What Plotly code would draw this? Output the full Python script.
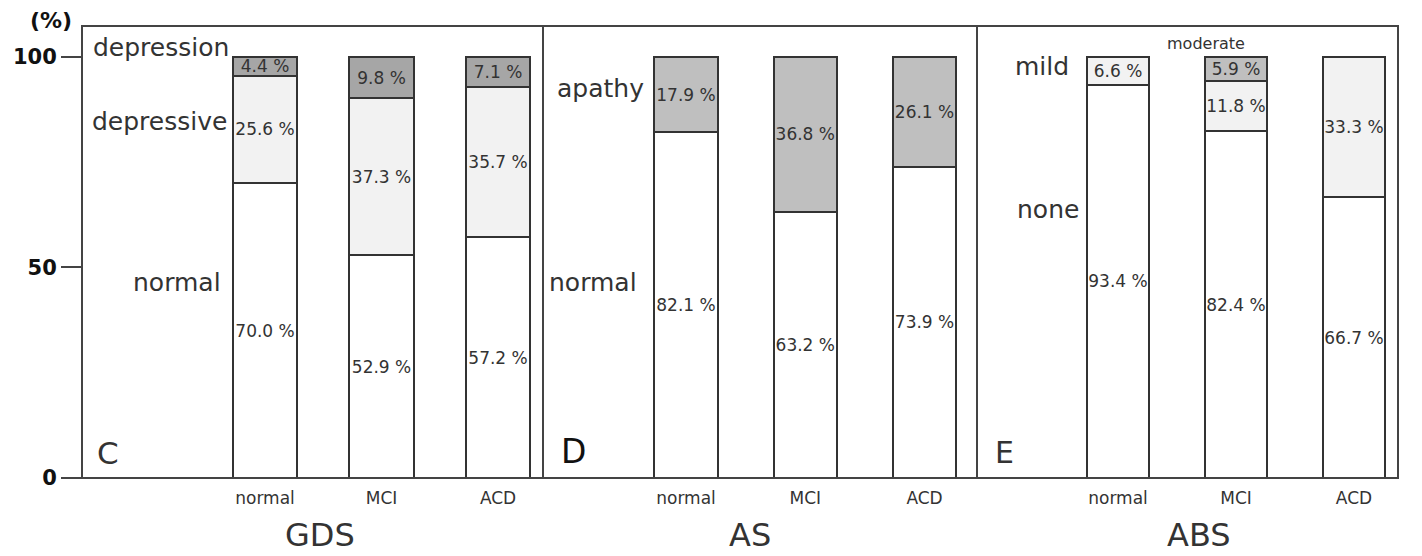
import plotly.graph_objects as go

groups = ["normal", "MCI", "ACD"]

# GDS (panel C)
gds_normal = [70.0, 52.9, 57.2]
gds_depressive = [25.6, 37.3, 35.7]
gds_depression = [4.4, 9.8, 7.1]

# AS (panel D)
as_normal = [82.1, 63.2, 73.9]
as_apathy = [17.9, 36.8, 26.1]

# ABS (panel E)
abs_none = [93.4, 82.4, 66.7]
abs_mild = [6.6, 11.8, 33.3]
abs_moderate = [0.0, 5.9, 0.0]

y_ticks = [0, 50, 100]

FONT = "DejaVu Sans"
EDGE = "#333333"
TXT = "#333333"

# plot-area geometry (pixels) used only for layout placement
W, H = 1422, 556
L, R, T, B = 82, 1398, 26, 478
PW, PH = R - L, B - T


def px(x):
    return (x - L) / PW


def py(y):
    return (B - y) / PH


fig = go.Figure()


def add_bar(xaxis, vals, color, width):
    texts = [("%.1f %%" % v) if v > 0 else "" for v in vals]
    fig.add_trace(go.Bar(
        x=groups, y=vals, xaxis=xaxis, yaxis="y",
        width=width,
        marker=dict(color=color, line=dict(color=EDGE, width=2)),
        text=texts, textposition="inside", insidetextanchor="middle",
        constraintext="none", textangle=0,
        textfont=dict(family=FONT, size=17, color=TXT),
        showlegend=False, hoverinfo="skip",
    ))


# Panel C
add_bar("x", gds_normal, "#ffffff", 0.55)
add_bar("x", gds_depressive, "#f2f2f2", 0.55)
add_bar("x", gds_depression, "#a6a6a6", 0.55)
# Panel D
add_bar("x2", as_normal, "#ffffff", 0.53)
add_bar("x2", as_apathy, "#bfbfbf", 0.53)
# Panel E
add_bar("x3", abs_none, "#ffffff", 0.525)
add_bar("x3", abs_mild, "#f2f2f2", 0.525)
add_bar("x3", abs_moderate, "#bfbfbf", 0.525)

d1 = px(543)
d2 = px(977)

xcommon = dict(
    type="category", showgrid=False, zeroline=False, showline=False,
    ticks="outside", ticklen=5, tickcolor="rgba(0,0,0,0)",
    tickfont=dict(family=FONT, size=17, color=TXT), anchor="y", fixedrange=True,
)

fig.update_layout(
    width=W, height=H,
    margin=dict(l=L, r=W - R, t=T, b=H - B),
    paper_bgcolor="white", plot_bgcolor="white",
    barmode="stack",
    font=dict(family=FONT, color=TXT),
    xaxis=dict(domain=[0, d1], range=[-1.571, 2.386], **xcommon),
    xaxis2=dict(domain=[d1, d2], range=[-1.199, 2.440], **xcommon),
    xaxis3=dict(domain=[d2, 1], range=[-1.195, 2.373], **xcommon),
    yaxis=dict(
        range=[0, 107.36], tickvals=y_ticks, ticktext=[str(v) for v in y_ticks],
        ticks="outside", ticklen=20, tickwidth=2, tickcolor="#444444",
        tickfont=dict(family=FONT, size=21, color="#111111", weight="bold"),
        showgrid=False, zeroline=False, showline=False, fixedrange=True,
    ),
)

# frame and panel dividers
fig.add_shape(type="rect", xref="paper", yref="paper", x0=0, x1=1, y0=0, y1=1,
              line=dict(color="#444444", width=2))
for d in (d1, d2):
    fig.add_shape(type="line", xref="paper", yref="paper", x0=d, x1=d, y0=0, y1=1,
                  line=dict(color="#444444", width=2))


def note(text, x, y, size, xanchor="center", color=TXT, weight="normal"):
    fig.add_annotation(text=text, x=px(x), y=py(y), xref="paper", yref="paper",
                       xanchor=xanchor, yanchor="middle", showarrow=False,
                       font=dict(family=FONT, size=size, color=color, weight=weight))


# category labels inside panels
note("depression", 231, 47, 25, xanchor="right")
note("depressive", 229, 121, 25, xanchor="right")
note("normal", 223, 282, 25, xanchor="right")
note("apathy", 646, 88, 25, xanchor="right")
note("normal", 639, 282, 25, xanchor="right")
note("mild", 1071, 66, 25, xanchor="right")
note("none", 1081, 210, 25, xanchor="right")
note("moderate", 1206, 43, 16)

# panel letters
note("C", 95, 453, 31, xanchor="left")
note("D", 559, 451, 33, xanchor="left", color="#111111")
note("E", 993, 452, 30, xanchor="left")

# axis titles
note("GDS", 320, 535, 32)
note("AS", 750, 535, 32)
note("ABS", 1199, 535, 32)

# unit label
note("(%)", 51, 20, 22, color="#111111", weight="bold")

fig.write_html("out.html", config={"displayModeBar": False},
               post_script="document.body.style.margin='0';")
